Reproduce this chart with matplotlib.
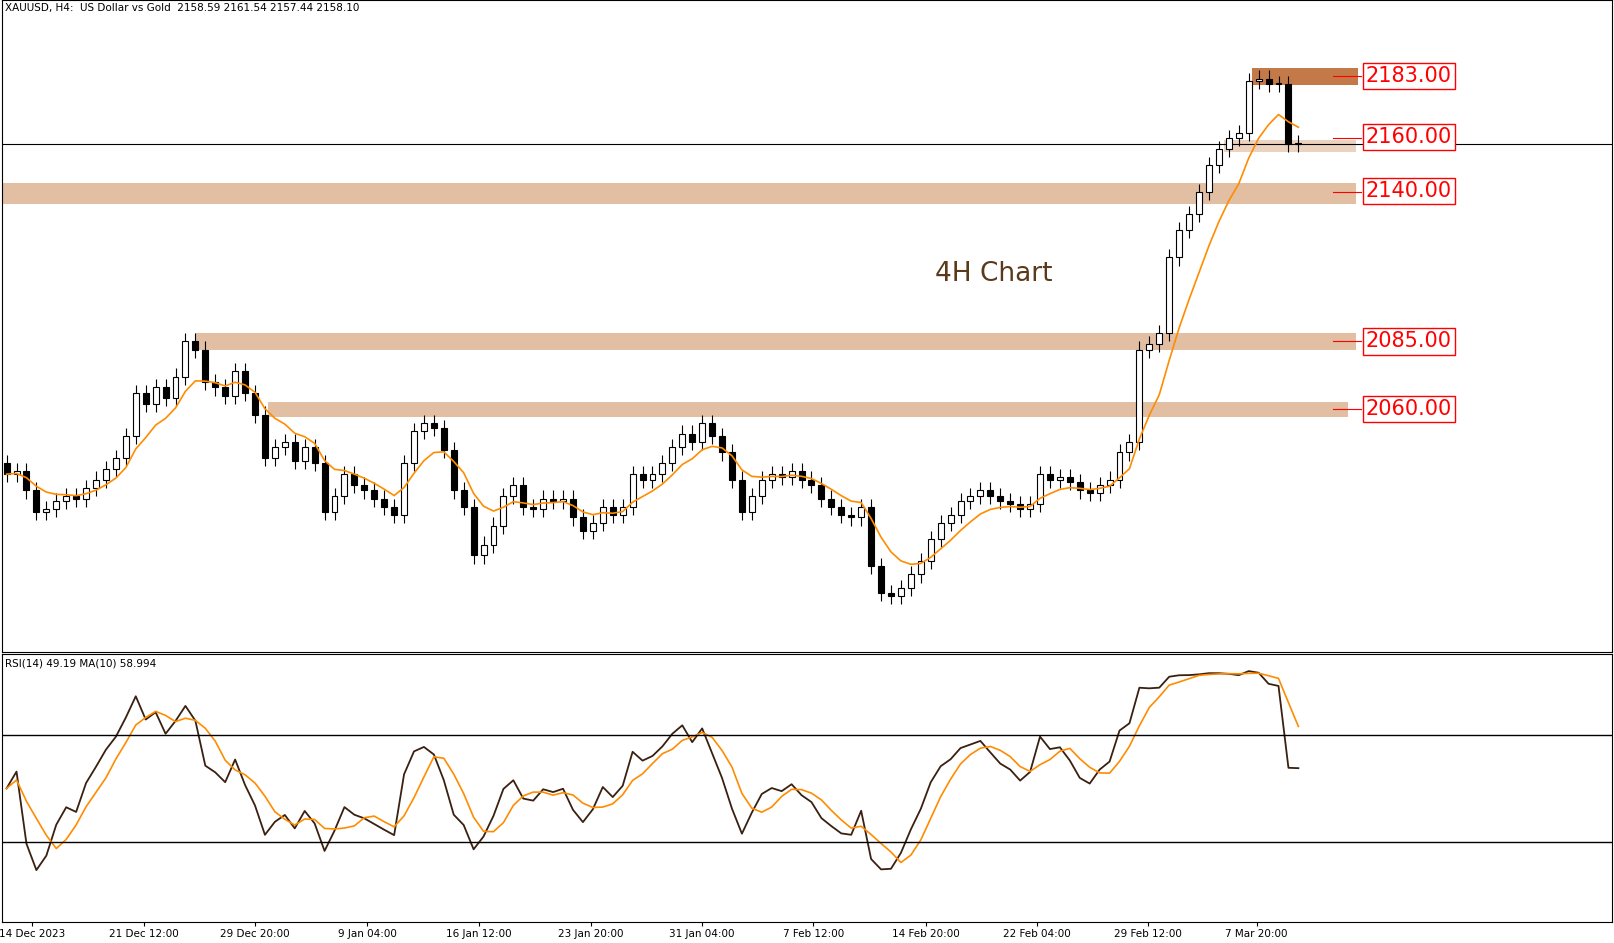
import matplotlib.pyplot as plt
from matplotlib.patches import Rectangle
import numpy as np
import pandas as pd

# closes of 12h-ish candles
closes = [2036, 2037, 2030, 2022, 2023, 2026, 2028, 2027, 2031, 2034,
          2038, 2042, 2050, 2066, 2062, 2068, 2064, 2072, 2085, 2082,
          2070, 2068, 2065, 2074, 2066, 2058, 2042, 2046, 2048, 2041,
          2046, 2040, 2022, 2028, 2036, 2032, 2030, 2027, 2024, 2021,
          2040, 2052, 2055, 2053, 2045, 2030, 2024, 2006, 2010, 2017,
          2028, 2032, 2024, 2023, 2027, 2026, 2027, 2020, 2015, 2018,
          2024, 2021, 2024, 2036, 2034, 2036, 2040, 2046, 2051, 2048,
          2055, 2050, 2044, 2034, 2022, 2028, 2034, 2036, 2035, 2037,
          2034, 2032, 2027, 2024, 2021, 2020, 2024, 2002, 1992, 1991,
          1994, 1999, 2004, 2012, 2018, 2021, 2026, 2028, 2030, 2028,
          2026, 2025, 2023, 2025, 2036, 2034, 2035, 2033, 2030, 2029,
          2032, 2034, 2044, 2048, 2082, 2084, 2088, 2116, 2126, 2132,
          2140, 2150, 2156, 2160, 2162, 2181, 2182, 2180, 2180, 2158, 2158]
first_open = 2040
wick = 3.0

tick_pos = [2.6, 13.8, 25.0, 36.3, 47.5, 58.8, 70.0, 81.2, 92.5, 103.7, 114.9, 125.8]
tick_labels = ['14 Dec 2023', '21 Dec 12:00', '29 Dec 20:00', '9 Jan 04:00',
               '16 Jan 12:00', '23 Jan 20:00', '31 Jan 04:00', '7 Feb 12:00',
               '14 Feb 20:00', '22 Feb 04:00', '29 Feb 12:00', '7 Mar 20:00']

# zones: (low, high, x start, x end, colour)
zones = [(2135.8, 2143.4, -1, 135.8, '#e2bea2'),
         (2081.7, 2088.2, 19, 135.8, '#e2bea2'),
         (2057.0, 2062.7, 26.3, 135.0, '#e2bea2'),
         (2155.0, 2159.4, 122.5, 135.8, '#ecd3c0'),
         (2179.6, 2186.0, 125.3, 136.0, '#c47a48')]
levels = [2183.00, 2160.00, 2140.00, 2085.00, 2060.00]
level_label_y = [2183, 2160.5, 2140.5, 2085, 2060]

closes = np.array(closes, dtype=float)
opens = np.concatenate([[first_open], closes[:-1]])
highs = np.maximum(opens, closes) + wick
lows = np.minimum(opens, closes) - wick
x = np.arange(len(closes))

fig = plt.figure(figsize=(16.14, 9.43), dpi=100)
ax = fig.add_axes([0.001, 0.309, 0.998, 0.691])
ax2 = fig.add_axes([0.001, 0.022, 0.998, 0.284])

for lo, hi, x0, x1, col in zones:
    ax.add_patch(Rectangle((x0, lo), x1 - x0, hi - lo, color=col, zorder=1, lw=0))

for i in x:
    ax.vlines(i, lows[i], highs[i], color='black', lw=0.8, zorder=3)
    bottom = min(opens[i], closes[i])
    h = max(abs(closes[i] - opens[i]), 0.3)
    fc = 'white' if closes[i] >= opens[i] else 'black'
    ax.add_patch(Rectangle((i - 0.3, bottom), 0.6, h, facecolor=fc,
                           edgecolor='black', lw=0.8, zorder=4))

ma = pd.Series(closes).ewm(span=7, adjust=False).mean()
ax.plot(x, ma, color='#ff8c00', lw=1.2, zorder=5)
ax.axhline(2157.9, color='black', lw=0.8, zorder=2)

for lv, ly in zip(levels, level_label_y):
    ax.plot([133.5, 136.3], [lv, lv], color='red', lw=0.8, zorder=6)
    ax.text(136.8, ly, f'{lv:.2f}', color='red', fontsize=15, va='center', ha='left',
            bbox=dict(boxstyle='square,pad=0.15', fc='white', ec='red', lw=1), zorder=7)

ax.text(99.3, 2110, '4H Chart', color='#5a3a1a', fontsize=19, ha='center', va='center')
ax.text(0.002, 0.996, 'XAUUSD, H4:  US Dollar vs Gold  2158.59 2161.54 2157.44 2158.10',
        transform=ax.transAxes, fontsize=7.5, va='top', ha='left')
ax.set_xlim(-0.5, 161.6)
ax.set_ylim(1970.5, 2211)
ax.set_xticks([])
ax.set_yticks([])

# RSI
delta = pd.Series(closes).diff().fillna(0)
up = delta.clip(lower=0).ewm(alpha=1 / 7, adjust=False).mean() + 0.5
dn = (-delta.clip(upper=0)).ewm(alpha=1 / 7, adjust=False).mean() + 0.5
rsi = 100 - 100 / (1 + up / dn)
rsi_ma = rsi.rolling(4, min_periods=1).mean()
ax2.plot(x, rsi, color='#3a2010', lw=1.3)
ax2.plot(x, rsi_ma, color='#ff8c00', lw=1.2)
ax2.axhline(70, color='black', lw=1)
ax2.axhline(30, color='black', lw=1)
ax2.text(0.002, 0.985, 'RSI(14) 49.19 MA(10) 58.994', transform=ax2.transAxes,
         fontsize=7.5, va='top', ha='left')
ax2.set_xlim(-0.5, 161.6)
ax2.set_ylim(0, 100)
ax2.set_yticks([])
ax2.set_xticks(tick_pos)
ax2.set_xticklabels(tick_labels, fontsize=7.5)
ax2.tick_params(axis='x', length=3, pad=2)

fig.savefig('out.png', dpi=100)
